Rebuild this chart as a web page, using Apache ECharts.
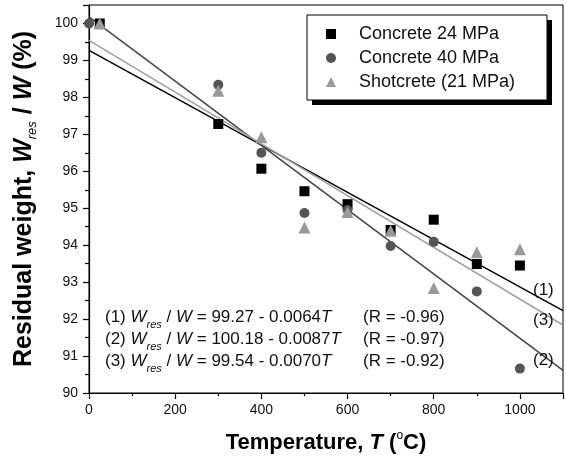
<!DOCTYPE html>
<html>
<head>
<meta charset="utf-8">
<script src="https://cdn.jsdelivr.net/npm/echarts@6/dist/echarts.min.js"></script>
<style>
  html, body { margin: 0; padding: 0; background: #fff; }
  #root { width: 566px; height: 460px; }
</style>
</head>
<body>
<div id="root"></div>
<script>
// data
const seriesNames = ['Concrete 24 MPa', 'Concrete 40 MPa', 'Shotcrete (21 MPa)']
const temps24 = [25, 300, 400, 500, 600, 700, 800, 900, 1000]
const concrete24 = [100.0, 97.28, 96.07, 95.46, 95.11, 94.41, 94.69, 93.49, 93.45]
const temps40 = [0, 300, 400, 500, 600, 700, 800, 900, 1000]
const concrete40 = [100.0, 98.34, 96.5, 94.87, 94.95, 93.98, 94.09, 92.75, 90.66]
const tempsShot = [25, 300, 400, 500, 600, 700, 800, 900, 1000]
const shotcrete = [100.0, 98.18, 96.92, 94.48, 94.9, 94.39, 92.84, 93.81, 93.89]

// fitted lines, end points from the printed equations
const fitT = [0, 1100]
const fit1 = [99.27, 92.23]
const fit2 = [100.18, 90.61]
const fit3 = [99.54, 91.84]

const eqLeft = [
  '{n|(1) }{i|W}{s|res}{n| / }{i|W}{n| = 99.27 - 0.0064}{i|T}',
  '{n|(2) }{i|W}{s|res}{n| / }{i|W}{n| = 100.18 - 0.0087}{i|T}',
  '{n|(3) }{i|W}{s|res}{n| / }{i|W}{n| = 99.54 - 0.0070}{i|T}'
]
const eqR = ['(R = -0.96)', '(R = -0.97)', '(R = -0.92)']
const lineTags = ['(1)', '(3)', '(2)']

const FONT = 'Liberation Sans, Arial, sans-serif'

const zip = (xs, ys) => xs.map((x, i) => [x, ys[i]])

const eqRich = {
  n: { fontSize: 17, fontFamily: FONT, lineHeight: 26, color: '#111' },
  i: { fontSize: 17, fontFamily: FONT, fontStyle: 'italic', lineHeight: 26, color: '#111' },
  s: { fontSize: 11, fontFamily: FONT, fontStyle: 'italic', lineHeight: 12, verticalAlign: 'bottom', color: '#111' }
}

const graphics = [
  // legend frame with shadow
  { type: 'rect', z: 3, shape: { x: 312, y: 20, width: 240, height: 85 }, style: { fill: '#000' } },
  { type: 'rect', z: 3, shape: { x: 307, y: 15, width: 240, height: 85 }, style: { fill: '#fff', stroke: '#000', lineWidth: 1 } }
]
eqLeft.forEach((t, k) => {
  graphics.push({
    type: 'text', z: 5, x: 105, y: 317 + k * 22,
    style: { text: t, rich: eqRich, verticalAlign: 'middle', fill: '#111' }
  })
  graphics.push({
    type: 'text', z: 5, x: 363, y: 317 + k * 22,
    style: { text: eqR[k], font: '17px ' + FONT, verticalAlign: 'middle', fill: '#111' }
  })
})
const tagY = [290, 320, 360]
lineTags.forEach((t, k) => {
  graphics.push({
    type: 'text', z: 5, x: 533, y: tagY[k],
    style: { text: t, font: '17px ' + FONT, verticalAlign: 'middle', fill: '#111' }
  })
})

const fitLine = (data, color) => ({
  type: 'line',
  data: zip(fitT, data),
  showSymbol: false,
  silent: true,
  lineStyle: { color, width: 1.5 },
  z: 1
})

const option = {
  animation: false,
  backgroundColor: '#fff',
  grid: { left: 89, right: 3, top: 5, bottom: 67, show: true, borderColor: '#000', borderWidth: 1 },
  xAxis: {
    type: 'value', min: 0, max: 1100, interval: 200,
    name: '{b|Temperature, }{i|T}{b| (}{o|o}{b|C)}',
    nameLocation: 'middle', nameGap: 37,
    nameTextStyle: {
      rich: {
        b: { fontSize: 22, fontWeight: 'bold', fontFamily: FONT, lineHeight: 26, color: '#000' },
        i: { fontSize: 22, fontWeight: 'bold', fontStyle: 'italic', fontFamily: FONT, lineHeight: 26, color: '#000' },
        o: { fontSize: 12, fontFamily: FONT, lineHeight: 14, verticalAlign: 'top', color: '#000' }
      }
    },
    axisLine: { lineStyle: { color: '#000', width: 1.2 } },
    axisTick: { length: 6, lineStyle: { color: '#000', width: 1.2 } },
    minorTick: { show: true, splitNumber: 2, length: 3, lineStyle: { color: '#000', width: 1.2 } },
    splitLine: { show: false },
    axisLabel: { fontSize: 14, fontFamily: FONT, color: '#111', margin: 10, showMaxLabel: false, formatter: v => String(v) }
  },
  yAxis: {
    type: 'value', min: 90, max: 100.5, interval: 1,
    name: '{b|Residual weight, }{i|W}{s|res}{b| / }{i|W}{b| (%)}',
    nameLocation: 'middle', nameGap: 50, nameRotate: 90,
    nameTextStyle: {
      rich: {
        b: { fontSize: 25, fontWeight: 'bold', fontFamily: FONT, lineHeight: 30, color: '#000' },
        i: { fontSize: 25, fontWeight: 'bold', fontStyle: 'italic', fontFamily: FONT, lineHeight: 30, color: '#000' },
        s: { fontSize: 13, fontStyle: 'italic', fontFamily: FONT, lineHeight: 13, verticalAlign: 'bottom', color: '#000' }
      }
    },
    axisLine: { lineStyle: { color: '#000', width: 1.2 } },
    axisTick: { length: 6, lineStyle: { color: '#000', width: 1.2 } },
    minorTick: { show: true, splitNumber: 2, length: 4, lineStyle: { color: '#000', width: 1.2 } },
    splitLine: { show: false },
    axisLabel: { fontSize: 14, fontFamily: FONT, color: '#111', margin: 11, showMaxLabel: false }
  },
  legend: {
    orient: 'vertical', left: 326, top: 24, padding: 0, itemGap: 4,
    itemWidth: 10, itemHeight: 10, z: 4,
    data: seriesNames,
    textStyle: { fontSize: 18, fontFamily: FONT, color: '#111', lineHeight: 20, padding: [0, 0, 0, 18] }
  },
  graphic: graphics,
  series: [
    fitLine(fit1, '#000'),
    fitLine(fit2, '#444'),
    fitLine(fit3, '#a0a0a0'),
    { type: 'scatter', name: seriesNames[0], symbol: 'rect', symbolSize: 10, data: zip(temps24, concrete24), itemStyle: { color: '#000', opacity: 1 }, z: 3 },
    { type: 'scatter', name: seriesNames[1], symbol: 'circle', symbolSize: 10, data: zip(temps40, concrete40), itemStyle: { color: '#555', opacity: 1 }, z: 3 },
    { type: 'scatter', name: seriesNames[2], symbol: 'triangle', symbolSize: 12, data: zip(tempsShot, shotcrete), itemStyle: { color: '#999', opacity: 1 }, z: 3 }
  ]
}

const chart = echarts.init(document.getElementById('root'), null, { renderer: 'canvas' })
chart.setOption(option)
</script>
</body>
</html>
